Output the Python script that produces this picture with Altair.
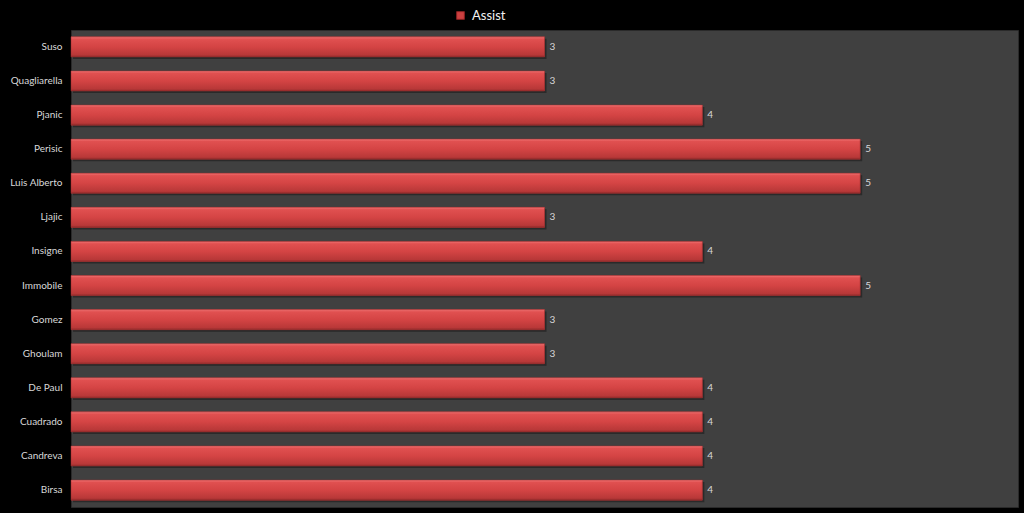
import altair as alt
import pandas as pd

players = ["Suso", "Quagliarella", "Pjanic", "Perisic", "Luis Alberto", "Ljajic",
           "Insigne", "Immobile", "Gomez", "Ghoulam", "De Paul", "Cuadrado",
           "Candreva", "Birsa"]
assists = [3, 3, 4, 5, 5, 3, 4, 5, 3, 3, 4, 4, 4, 4]
series = "Assist"

df = pd.DataFrame({"player": players, "assist": assists, "series": [series] * len(players)})

FONT = "Lato"

y = alt.Y("player:N", sort=players, title=None,
          scale=alt.Scale(paddingInner=0.41, paddingOuter=0.2),
          axis=alt.Axis(labelColor="#d9d9d9", labelFontSize=10, labelFont=FONT,
                        ticks=False, domain=False, labelPadding=9, grid=False))
x = alt.X("assist:Q", title=None, axis=None, scale=alt.Scale(domain=[0, 6], nice=False))

base = alt.Chart(df)

shadow = base.mark_bar(xOffset=2, yOffset=2, color="#242424", opacity=0.8).encode(x=x, y=y)

solid = base.mark_bar().encode(
    x=x, y=y,
    color=alt.Color("series:N", title=None,
                    scale=alt.Scale(range=["#cc4040"]),
                    legend=alt.Legend(orient="none", legendX=383, legendY=-21,
                                      symbolType="square", symbolSize=60,
                                      symbolStrokeColor="#8a2020", symbolStrokeWidth=1,
                                      labelColor="#f2f2f2", labelFontSize=13,
                                      labelFont=FONT, labelOffset=5)),
)

grad = base.mark_bar(
    color=alt.Gradient(
        gradient="linear", x1=0, y1=0, x2=0, y2=1,
        stops=[alt.GradientStop(offset=0, color="#f07272"),
               alt.GradientStop(offset=0.12, color="#e05050"),
               alt.GradientStop(offset=0.5, color="#d44444"),
               alt.GradientStop(offset=0.9, color="#b83838"),
               alt.GradientStop(offset=1, color="#8e2a2a")]),
    stroke="#9a2e2e", strokeWidth=0.5,
).encode(x=x, y=y)

labels = base.mark_text(align="left", baseline="middle", dx=5, fontSize=10,
                        font=FONT, color="#d9d9d9").encode(
    x=x, y=y, text=alt.Text("assist:Q"))

chart = alt.layer(shadow, solid, grad, labels).properties(
    width=947, height=477,
    background="#000000",
    padding={"left": 71, "top": 30, "right": 6, "bottom": 6},
    autosize=alt.AutoSizeParams(type="none"),
).configure_view(fill="#404040", stroke="#2a2a2a", strokeWidth=1)

chart.save("out.html", embed_options={"renderer": "svg", "actions": False})
